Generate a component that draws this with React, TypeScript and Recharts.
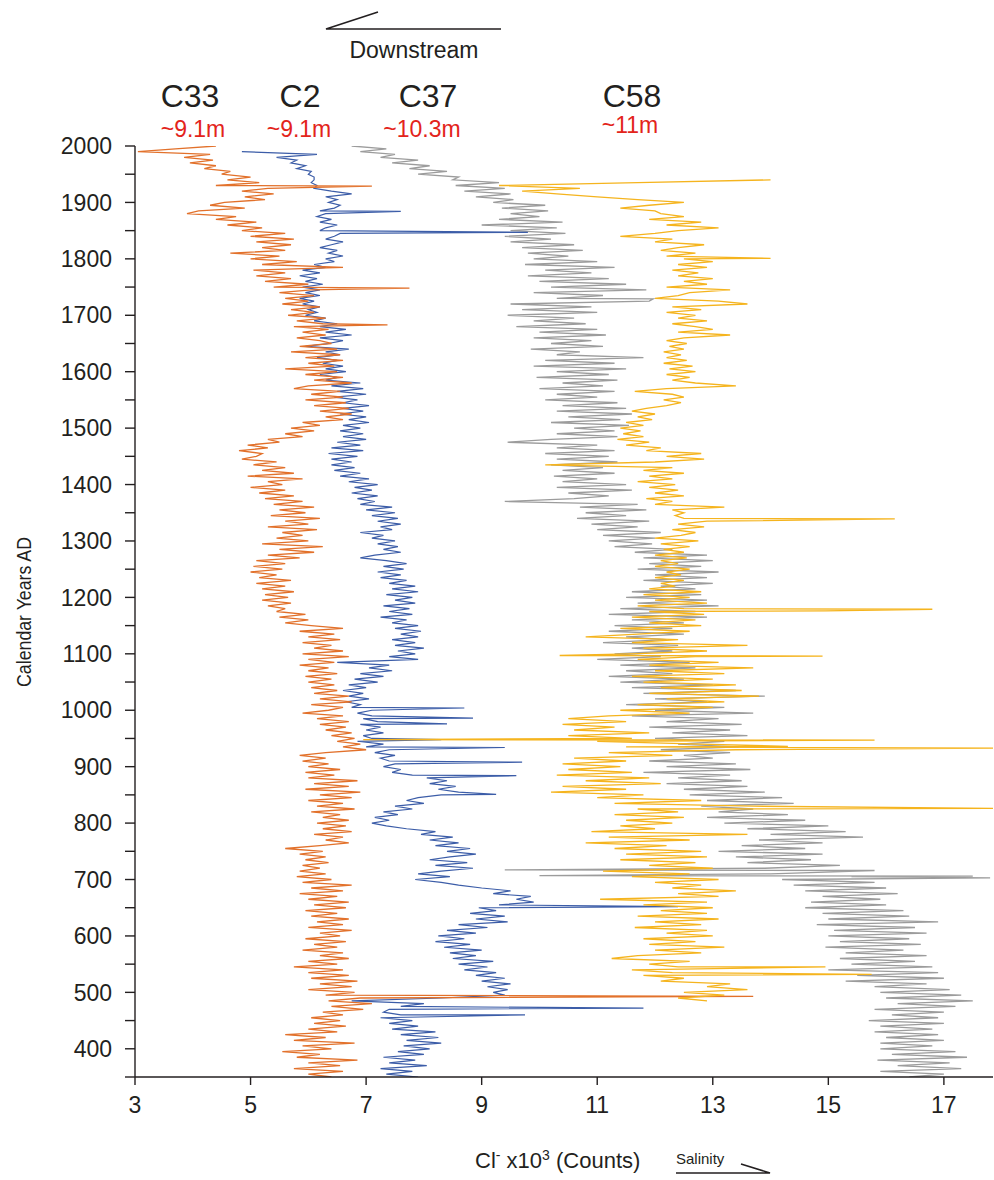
import { Line, LineChart, XAxis, YAxis } from "recharts";

const c33Start = 2000;
const c33Values = [
  4.4, 3.7, 3.05, 4.3, 3.85, 4.35, 3.95, 4.4, 4.2, 4.65,
  4.5, 5.0, 4.6, 5.15, 4.4, 5.3, 4.85, 5.4, 4.9, 5.25,
  4.55, 4.3, 4.9, 4.1, 3.9, 4.75, 4.4, 5.1, 4.6, 5.2,
  4.85, 5.6, 5.0, 5.75, 5.1, 5.7, 5.2, 5.6, 4.65, 5.5,
  5.0, 5.8, 5.2, 6.6, 5.05, 5.6, 5.1, 5.7, 5.25, 6.0,
  5.4, 6.05, 5.5, 6.1, 5.6, 6.0, 5.55, 6.2, 5.7, 6.1,
  5.65, 6.3, 5.8, 6.25, 5.75, 6.35, 5.9, 6.3, 5.8, 6.2,
  6.4, 5.85, 6.5, 5.7, 6.55, 5.95, 6.6, 6.0, 6.45, 5.6,
  6.5, 5.95, 6.6, 6.1, 6.75, 6.0, 5.75, 6.55, 6.05, 6.6,
  5.95, 6.65, 6.1, 6.7, 6.2, 6.75, 6.3, 6.6, 5.9, 6.2,
  5.7, 6.1, 5.6, 5.9, 5.3, 5.5, 4.95, 5.3, 4.8, 5.2,
  5.1, 4.85, 5.45, 5.05, 5.6, 5.2, 5.75, 4.95, 5.9, 5.3,
  5.55, 5.0, 5.6, 5.15, 5.75, 5.25, 5.9, 5.4, 6.1, 5.5,
  5.95, 5.35, 6.2, 5.6, 6.0, 5.3, 6.15, 5.55, 5.9, 5.45,
  6.0, 5.2, 6.25, 5.5, 6.1, 5.3, 5.85, 5.1, 5.6, 5.05,
  5.55, 5.0, 5.45, 5.15, 5.7, 5.1, 5.6, 5.2, 5.75, 5.25,
  5.65, 5.2, 5.7, 5.3, 5.6, 5.45, 5.95, 5.5, 6.0, 5.6,
  6.05, 6.6, 5.85, 6.45, 6.0, 6.55, 5.9, 6.4, 6.1, 6.6,
  5.9, 6.7, 6.0, 6.45, 5.85, 6.35, 6.0, 6.5, 5.95, 6.4,
  6.0, 6.45, 6.05, 6.5, 6.1, 6.7, 6.2, 6.75, 6.05, 6.6,
  6.35, 5.9, 6.6, 6.15, 6.7, 6.2, 6.65, 6.3, 6.75, 6.4,
  6.8, 6.5, 6.9, 6.6, 7.0, 6.3, 5.85, 6.3, 5.9, 6.35,
  6.0, 6.55, 5.95, 6.45, 6.0, 6.85, 6.1, 6.7, 5.95, 6.9,
  6.2, 6.75, 6.0, 6.6, 6.15, 6.8, 6.05, 6.55, 6.25, 6.7,
  6.15, 6.65, 6.25, 6.75, 6.1, 6.6, 6.3, 6.7, 6.2, 5.6,
  6.25, 5.85, 6.3, 5.95, 6.35, 5.9, 6.2, 5.85, 6.3, 5.8,
  6.4, 5.9, 6.75, 6.05, 6.6, 5.85, 6.5, 6.0, 6.7, 6.1,
  6.65, 5.95, 6.5, 6.05, 6.7, 6.15, 6.6, 6.0, 6.75, 6.2,
  6.55, 5.95, 6.65, 6.1, 6.5, 5.9, 6.6, 6.2, 6.7, 6.0,
  6.5, 5.75, 6.6, 6.0, 6.7, 6.05, 6.85, 6.2, 6.75, 6.0,
  6.8, 6.3, 6.9, 6.35, 7.1, 6.4, 6.95, 6.25, 6.6, 6.05,
  6.55, 6.1, 6.65, 6.0, 6.5, 5.6, 6.3, 5.75, 6.8, 5.9,
  6.4, 5.55, 6.2, 5.8, 6.85, 6.0, 6.55, 5.75, 6.6, 6.0, 6.4,
];
const c33SpikeYears = [1929, 1748, 1683, 493];
const c33SpikeValues = [7.1, 7.75, 7.37, 13.7];

const c2Start = 1990;
const c2Values = [
  4.85, 6.15, 5.45, 5.8, 5.7, 5.95, 5.8, 6.05, 6.0, 6.1,
  6.1, 6.05, 6.15, 6.1, 6.4, 6.75, 6.3, 6.5, 6.35, 6.55,
  6.45, 6.2, 6.3, 6.15, 6.4, 6.2, 6.5, 6.3, 6.2, 6.55,
  6.45, 6.3, 6.6, 6.4, 6.2, 6.5, 6.35, 6.6, 6.3, 6.45,
  6.1, 6.3, 5.9, 6.2, 5.85, 6.15, 5.95, 6.25, 5.9, 6.2,
  5.95, 6.2, 5.85, 6.1, 5.9, 6.2, 6.0, 6.15, 5.95, 6.3,
  6.1, 6.5, 6.2, 6.65, 6.3, 6.75, 6.2, 6.6, 6.35, 5.95,
  6.7, 6.3, 6.55, 6.15, 6.5, 6.25, 6.6, 6.3, 6.65, 6.2,
  6.5, 6.3, 6.9, 6.4, 6.95, 6.5, 7.0, 6.45, 6.85, 6.6,
  7.05, 6.6, 6.95, 6.55, 7.0, 6.7, 7.05, 6.6, 6.9, 6.55,
  6.95, 6.6, 7.0, 6.5, 6.9, 6.4, 6.95, 6.35, 6.85, 6.4,
  6.75, 6.4, 6.8, 6.45, 6.9, 6.55, 7.05, 6.7, 7.2, 6.8,
  7.1, 6.75, 7.2, 6.85, 7.15, 6.9, 7.45, 7.0, 7.5, 7.1,
  7.55, 7.2, 7.6, 7.25, 7.45, 6.9, 7.3, 7.1, 7.5, 7.2,
  7.55, 7.3, 7.6, 7.15, 6.9, 7.35, 7.7, 7.3, 7.65, 7.2,
  7.6, 7.25, 7.7, 7.4, 7.85, 7.45, 7.9, 7.35, 7.8, 7.5,
  7.85, 7.3, 7.75, 7.4, 7.8, 7.25, 7.7, 7.45, 7.9, 7.5,
  7.95, 7.6, 7.9, 7.45, 7.85, 7.5, 8.0, 7.55, 7.85, 7.4,
  7.9, 6.5, 7.4, 7.05, 7.45, 6.9, 7.3, 6.8, 7.2, 6.7,
  7.0, 6.6, 6.95, 6.7, 7.05, 6.65, 6.9, 6.75, 7.1, 6.85,
  7.1, 6.95, 7.2, 6.9, 7.25, 7.0, 7.3, 6.95, 7.1, 6.85,
  7.3, 7.0, 7.4, 7.15, 7.5, 7.25, 7.4, 7.5, 7.3, 7.6,
  7.45, 7.8, 8.05, 8.4, 8.1, 8.55, 8.25, 8.6, 8.3, 7.9,
  7.7, 8.0, 7.5, 7.8, 7.3, 7.55, 7.15, 7.4, 7.1, 7.35,
  7.7, 8.2, 7.95, 8.5, 8.1, 8.6, 8.2, 8.8, 8.4, 8.9,
  8.45, 8.1, 8.75, 8.2, 8.85, 8.3, 7.9, 8.45, 7.85, 8.3,
  8.6, 9.0, 9.5, 9.2, 9.85, 9.6, 9.9, 9.3, 8.95, 9.25,
  8.8, 9.4, 8.9, 9.45, 8.6, 9.1, 8.4, 8.9, 8.25, 8.7,
  8.2, 8.8, 8.35, 9.0, 8.45, 8.9, 8.5, 9.2, 8.6, 9.1,
  8.7, 9.25, 8.9, 9.4, 9.0, 9.5, 9.1, 9.45, 9.2, 9.4,
  8.3, 6.75, 8.0, 7.6, 7.4, 7.3, 7.6, 7.25, 7.8, 7.4,
  7.9, 7.45, 8.2, 7.6, 8.25, 7.7, 8.3, 7.65, 8.1, 7.55,
  8.0, 7.3, 7.85, 7.4, 8.05, 7.25, 7.8, 7.35, 7.9,
];
const c2SpikeYears = [1884, 1847, 1004, 986, 976, 948, 934, 908, 884, 851, 652, 472, 460];
const c2SpikeValues = [7.6, 9.8, 8.7, 8.85, 8.4, 8.3, 9.4, 9.7, 9.6, 9.25, 12.4, 11.8, 9.75];

const c37Start = 2000;
const c37Values = [
  6.75, 7.35, 6.9, 7.5, 7.25, 7.9, 7.45, 8.1, 7.75, 8.4,
  7.9, 8.6, 8.5, 9.3, 8.55, 9.4, 8.7, 9.5, 8.9, 9.55,
  9.2, 10.1, 9.35, 10.15, 9.5, 10.0, 9.3, 10.4, 9.0, 10.3,
  9.5, 10.45, 9.4, 10.2, 9.5, 10.6, 9.7, 10.75, 9.8, 10.5,
  9.9, 11.0, 9.75, 11.3, 10.1, 10.9, 9.8, 11.2, 10.0, 11.5,
  10.2, 11.85, 9.9, 11.1, 10.3, 11.9, 9.5, 10.9, 9.7, 11.0,
  9.45, 10.6, 9.9, 10.8, 9.6, 11.0, 10.0, 11.15, 9.9, 10.9,
  10.2, 11.1, 9.85, 10.7, 10.3, 11.8, 10.1, 11.3, 9.9, 11.5,
  10.3, 11.2, 9.95, 11.35, 10.4, 11.1, 10.0, 11.3, 10.3, 11.0,
  10.1, 11.35, 10.4, 11.5, 10.3, 11.6, 10.5, 11.4, 10.2, 11.55,
  10.6, 11.3, 10.3, 11.35, 10.2, 9.45, 11.0, 10.3, 11.3, 10.1,
  11.2, 10.3, 11.35, 10.2, 11.1, 10.4, 11.3, 10.25, 11.0, 10.4,
  11.5, 10.3, 11.6, 10.5, 11.2, 10.6, 9.4, 11.7, 10.7, 11.85,
  10.8, 11.5, 10.65, 11.9, 10.9, 11.7, 11.0, 12.1, 11.1, 12.0,
  11.2, 11.95, 11.3, 12.3, 11.65, 12.9, 11.8, 13.0, 11.9, 12.8,
  11.7, 13.1, 12.0, 12.9, 11.8, 13.0, 12.1, 12.7, 11.6, 12.8,
  11.5, 12.9, 11.7, 13.1, 11.4, 12.7, 11.2, 12.9, 11.6, 12.5,
  11.3, 12.3, 11.2, 12.5, 11.5, 12.2, 11.1, 12.4, 11.6, 12.3,
  11.3, 12.1, 11.0, 12.6, 11.4, 12.7, 11.5, 12.3, 11.2, 12.5,
  11.4, 13.0, 11.6, 13.4, 11.8, 13.9, 12.0, 12.9, 11.5, 13.2,
  12.0, 13.7, 11.6, 13.1, 12.2, 13.5, 11.9, 13.3, 12.3, 13.6,
  12.0, 13.2, 12.4, 13.45, 12.1, 13.3, 12.5, 13.0, 11.9, 13.4,
  12.2, 13.65, 11.8, 13.3, 12.4, 13.5, 12.2, 13.6, 12.5, 13.9,
  12.6, 14.2, 12.9, 14.4, 12.8, 13.7, 13.1, 14.3, 12.9, 14.6,
  13.2, 15.0, 13.6, 15.3, 14.0, 15.6, 13.8, 14.9, 13.5, 14.6,
  13.1, 14.9, 13.4, 14.7, 13.6, 15.2, 13.9, 15.5, 14.0, 15.4,
  14.2, 15.8, 14.4, 16.0, 14.6, 16.2, 14.9, 15.9, 14.7, 16.0,
  14.6, 16.3, 14.9, 16.4, 15.0, 16.9, 14.8, 16.5, 15.1, 16.7,
  15.0, 16.4, 15.2, 16.6, 14.95, 16.3, 15.3, 16.7, 15.2, 16.5,
  15.4, 16.8, 15.0, 16.9, 15.5, 17.0, 15.3, 16.7, 15.8, 17.1,
  15.9, 17.3, 16.0, 17.5, 16.2, 17.2, 15.8, 17.0, 16.1, 16.9,
  15.7, 17.0, 15.9, 16.8, 15.8, 16.9, 16.0, 17.0, 15.9, 16.8,
  15.9, 17.2, 16.1, 17.4, 15.85, 17.1, 16.2, 17.3, 15.9, 17.0, 16.4,
];
const c37SpikeYears = [1729, 717, 716, 707, 706, 703];
const c37SpikeValues = [11.97, 9.4, 15.8, 10.0, 17.5, 17.8];

const c58Start = 1940;
const c58Values = [
  14.0, 11.7, 9.3, 10.7, 9.7, 10.3, 11.0, 11.7, 12.5, 11.9,
  11.4, 12.0, 12.1, 12.5, 11.9, 12.8, 12.2, 13.1, 12.4, 12.0,
  11.4, 12.3, 12.0, 12.85, 12.4, 12.1, 12.7, 12.2, 12.5, 13.0,
  12.4, 12.9, 12.3, 12.75, 12.4, 13.0, 12.5, 12.9, 12.2, 13.3,
  12.6, 12.4, 12.0, 13.1, 13.6, 12.3, 12.8, 12.2, 12.7, 12.4,
  12.9, 12.3, 12.7, 13.0, 12.4, 13.3, 12.5, 12.2, 12.55, 12.25,
  12.5, 12.15, 12.45, 12.2, 12.55, 12.15, 12.65, 12.25, 12.7, 12.2,
  12.6, 12.3, 12.7, 13.4, 12.2, 11.65, 12.3, 12.5, 12.15, 12.45,
  12.2, 11.85, 11.6, 12.0, 11.7, 11.95, 11.5, 11.8, 11.4, 11.75,
  11.45, 11.8, 11.35, 11.9, 11.5, 12.1, 11.85, 12.8, 12.2, 12.85,
  12.0, 10.1, 12.3, 11.8, 12.5, 11.9, 12.3, 11.7, 12.35, 11.9,
  12.4, 12.0, 12.5, 11.85, 12.3, 12.0, 13.2, 12.3, 12.5, 12.35,
  12.5, 12.9, 12.4, 12.85, 12.3, 12.7, 12.45, 12.0, 12.75, 12.1,
  12.6, 12.15, 12.5, 12.0, 12.55, 12.1, 12.4, 12.0, 12.6, 12.2,
  12.45, 12.0, 12.5, 12.1, 12.35, 11.9, 12.8, 11.8, 12.6, 12.0,
  12.9, 11.7, 12.5, 11.9, 12.85, 11.6, 12.7, 11.9, 12.8, 11.4,
  12.6, 11.7, 10.8, 12.4, 11.6, 13.6, 11.8, 12.9, 11.6, 12.7,
  11.7, 13.1, 11.9, 13.7, 12.0, 13.2, 11.6, 13.0, 11.8, 13.4,
  12.1, 13.5, 11.9, 13.8, 12.2, 13.2, 11.7, 13.0, 11.4, 12.6,
  11.2, 10.5, 11.5, 10.4, 11.3, 10.6, 11.9, 10.5, 11.6, 11.0,
  12.8, 11.5, 13.4, 11.2, 12.3, 10.6, 11.5, 10.4, 11.4, 10.5,
  11.6, 10.3, 11.9, 10.8, 12.1, 10.4, 11.5, 10.2, 11.8, 11.0,
  12.8, 11.3, 13.7, 11.7, 12.4, 11.3, 12.5, 11.5, 12.3, 11.4,
  12.0, 10.9, 13.6, 11.2, 12.6, 10.8, 12.2, 11.3, 12.8, 11.5,
  12.9, 11.4, 12.7, 11.9, 13.0, 11.1, 12.6, 11.6, 13.1, 12.0,
  12.8, 12.3, 13.4, 12.4, 13.1, 11.05, 12.9, 11.8, 13.0, 12.1,
  12.9, 11.7, 13.1, 12.0, 12.8, 11.65, 12.9, 12.2, 13.0, 11.8,
  12.7, 11.9, 13.2, 12.0, 12.8, 11.7, 11.25, 12.6, 11.9, 12.4,
  11.6, 12.3, 11.8, 12.5, 12.1, 13.3, 12.9, 13.6, 12.5, 13.2, 12.4, 12.9,
];
const c58SpikeYears = [1801, 1339, 1179, 1176, 1097, 1096, 948, 947, 936, 933, 826, 545, 532];
const c58SpikeValues = [14.0, 16.15, 16.8, 14.95, 10.35, 14.9, 6.95, 15.8, 14.3, 17.85, 17.85, 14.95, 15.75];

const yearTicks = [
  350, 400, 450, 500, 550, 600, 650, 700, 750, 800, 850, 900, 950, 1000, 1050, 1100, 1150,
  1200, 1250, 1300, 1350, 1400, 1450, 1500, 1550, 1600, 1650, 1700, 1750, 1800, 1850, 1900, 1950, 2000,
];
const countTicks = [3, 5, 7, 9, 11, 13, 15, 17];

const font = "'Liberation Sans', Arial, Helvetica, sans-serif";
const ink = "#231f20";
const red = "#e3241b";

type Point = { year: number; v: number };

function buildSeries(start: number, values: number[], spikeYears: number[], spikeValues: number[]): Point[] {
  const points = values.map((v, i) => ({ year: start - 5 * i, v }));
  spikeYears.forEach((year, i) => points.push({ year, v: spikeValues[i] }));
  return points.sort((a, b) => b.year - a.year);
}

const c33 = buildSeries(c33Start, c33Values, c33SpikeYears, c33SpikeValues);
const c2 = buildSeries(c2Start, c2Values, c2SpikeYears, c2SpikeValues);
const c37 = buildSeries(c37Start, c37Values, c37SpikeYears, c37SpikeValues);
const c58 = buildSeries(c58Start, c58Values, c58SpikeYears, c58SpikeValues);

function YearTick(props: any) {
  const { x, y, payload } = props;
  if (payload.value % 100 !== 0) return <g />;
  return (
    <text x={x} y={y} dy="0.355em" textAnchor="end" fontSize={23} fontFamily={font} fill={ink}>
      {payload.value}
    </text>
  );
}

export default function App() {
  return (
    <div style={{ position: "absolute", left: 0, top: 0, width: 994, height: 1180, background: "#fff" }}>
      <LineChart width={994} height={1180} layout="vertical" margin={{ top: 146, right: 1, bottom: 63, left: 75 }}>
        <XAxis
          type="number"
          domain={[3, 17.85]}
          ticks={countTicks}
          allowDataOverflow
          height={40}
          tickSize={8}
          tickMargin={12}
          stroke={ink}
          strokeWidth={1.4}
          tick={{ fill: ink, fontSize: 23, fontFamily: font }}
        />
        <YAxis
          type="number"
          dataKey="year"
          domain={[350, 2000]}
          ticks={yearTicks}
          allowDataOverflow
          reversed
          width={60}
          tickSize={10}
          tickMargin={13}
          stroke={ink}
          strokeWidth={1.4}
          tick={<YearTick />}
        />
        <Line data={c37} dataKey="v" stroke="#9c9c9c" strokeWidth={1.3} dot={false} activeDot={false} isAnimationActive={false} />
        <Line data={c2} dataKey="v" stroke="#3c5da8" strokeWidth={1.2} dot={false} activeDot={false} isAnimationActive={false} />
        <Line data={c33} dataKey="v" stroke="#e2712b" strokeWidth={1.3} dot={false} activeDot={false} isAnimationActive={false} />
        <Line data={c58} dataKey="v" stroke="#f5b41e" strokeWidth={1.3} dot={false} activeDot={false} isAnimationActive={false} />
      </LineChart>

      <svg width={994} height={1180} style={{ position: "absolute", left: 0, top: 0, pointerEvents: "none" }}>
        <polyline points="378,12 326,29 501,29" fill="none" stroke={ink} strokeWidth={1.6} />
        <text x={414} y={58} textAnchor="middle" fontSize={23} fontFamily={font} fill={ink}>Downstream</text>

        <text x={190} y={107} textAnchor="middle" fontSize={32} fontFamily={font} fill={ink}>C33</text>
        <text x={300} y={107} textAnchor="middle" fontSize={32} fontFamily={font} fill={ink}>C2</text>
        <text x={428} y={107} textAnchor="middle" fontSize={32} fontFamily={font} fill={ink}>C37</text>
        <text x={632} y={107} textAnchor="middle" fontSize={32} fontFamily={font} fill={ink}>C58</text>

        <text x={193} y={137} textAnchor="middle" fontSize={23} fontFamily={font} fill={red}>~9.1m</text>
        <text x={299} y={137} textAnchor="middle" fontSize={23} fontFamily={font} fill={red}>~9.1m</text>
        <text x={422} y={137} textAnchor="middle" fontSize={23} fontFamily={font} fill={red}>~10.3m</text>
        <text x={630} y={133} textAnchor="middle" fontSize={23} fontFamily={font} fill={red}>~11m</text>

        <text
          x={0}
          y={0}
          transform="translate(31 612) rotate(-90)"
          textAnchor="middle"
          fontSize={21}
          fontFamily={font}
          fill={ink}
          textLength={150}
          lengthAdjust="spacingAndGlyphs"
        >
          Calendar Years AD
        </text>

        <text x={475} y={1168} fontSize={22} fontFamily={font} fill={ink}>
          Cl<tspan dy={-8} fontSize={14}>-</tspan>
          <tspan dy={8}> x10</tspan>
          <tspan dy={-8} fontSize={14}>3</tspan>
          <tspan dy={8}> (Counts)</tspan>
        </text>
        <text x={676} y={1164} fontSize={15} fontFamily={font} fill={ink}>Salinity</text>
        <polyline points="741,1164 770,1173 676,1173" fill="none" stroke={ink} strokeWidth={1.6} />
      </svg>
    </div>
  );
}
